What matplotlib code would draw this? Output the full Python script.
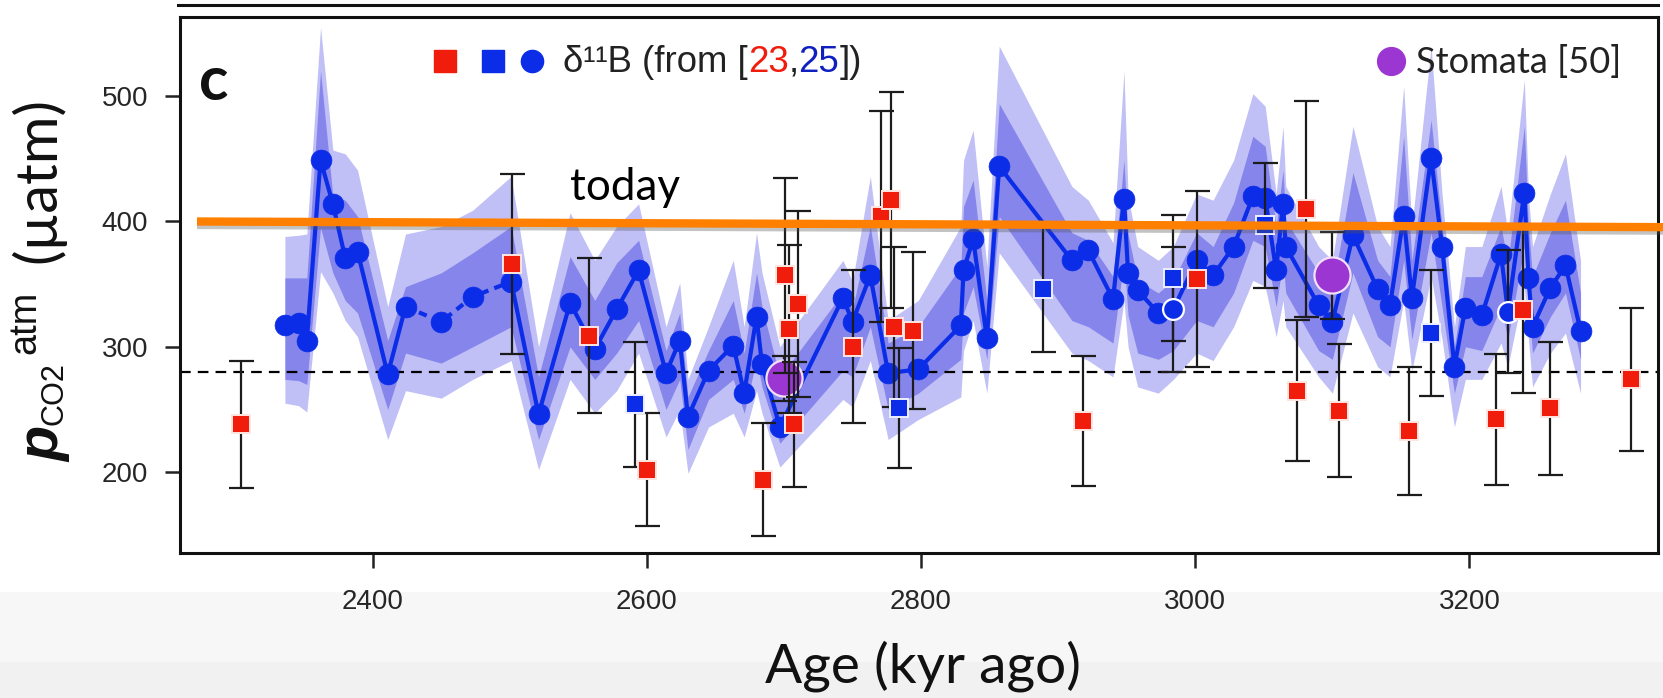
import matplotlib
matplotlib.use("Agg")
import matplotlib.pyplot as plt
from matplotlib.lines import Line2D
from matplotlib.patches import Rectangle
import matplotlib.patheffects as pe

# ---------------------------------------------------------------- data
# delta-11B derived pCO2, smoothed record (kyr ago, uatm)
b11_age = [2336, 2346, 2352, 2362, 2371, 2380, 2389, 2411, 2424, 2450, 2473, 2501,
           2521, 2544, 2562, 2578, 2594, 2614, 2624, 2630, 2645, 2663, 2671, 2680,
           2684, 2697, 2743, 2750, 2763, 2776, 2798, 2829, 2831, 2838, 2848, 2857,
           2910, 2922, 2940, 2948, 2951, 2958, 2973, 2984, 3001, 3013, 3028, 3042,
           3051, 3059, 3064, 3066, 3090, 3100, 3115, 3133, 3142, 3152, 3158, 3172,
           3180, 3189, 3197, 3209, 3223, 3228, 3240, 3243, 3246, 3259, 3270, 3281]
b11_pco2 = [317, 319, 305, 449, 414, 371, 376, 278, 332, 320, 340, 352,
            246, 335, 298, 330, 361, 279, 305, 244, 281, 301, 263, 324,
            286, 236, 339, 320, 357, 279, 282, 317, 361, 386, 307, 444,
            369, 377, 338, 418, 359, 345, 327, 330, 369, 357, 380, 420,
            419, 361, 414, 380, 333, 320, 389, 346, 333, 404, 339, 451,
            380, 284, 331, 325, 374, 328, 423, 355, 316, 347, 365, 313]
# uncertainty envelopes of the record
band95_lo = [255, 253, 248, 360, 343, 321, 308, 226, 265, 259, 274, 289,
             202, 274, 247, 265, 295, 228, 250, 199, 236, 247, 228, 265,
             247, 204, 258, 252, 289, 226, 242, 260, 297, 321, 263, 375,
             295, 289, 276, 337, 300, 268, 263, 274, 295, 289, 316, 353,
             348, 308, 337, 316, 276, 263, 327, 284, 276, 337, 281, 356,
             306, 236, 274, 274, 303, 284, 348, 306, 268, 295, 311, 263]
band68_lo = [274, 273, 270, 395, 359, 337, 327, 250, 295, 287, 300, 316,
             226, 300, 274, 295, 321, 250, 274, 218, 258, 274, 247, 290,
             268, 223, 281, 276, 316, 250, 263, 290, 327, 348, 290, 404,
             321, 316, 303, 369, 325, 295, 290, 297, 321, 316, 343, 385,
             380, 332, 369, 343, 297, 290, 359, 308, 300, 369, 306, 391,
             332, 263, 300, 297, 332, 306, 380, 332, 295, 324, 343, 290]
band68_hi = [355, 355, 355, 520, 420, 417, 404, 305, 348, 359, 375, 396,
             276, 372, 337, 367, 385, 297, 327, 260, 297, 337, 295, 359,
             332, 276, 343, 330, 396, 303, 316, 364, 412, 433, 337, 494,
             391, 385, 356, 449, 390, 353, 343, 353, 391, 380, 415, 468,
             460, 396, 441, 401, 359, 345, 439, 369, 356, 468, 369, 481,
             396, 300, 356, 356, 396, 367, 476, 396, 356, 391, 417, 343]
band95_hi = [388, 389, 390, 555, 457, 454, 441, 332, 390, 396, 409, 436,
             300, 407, 369, 396, 414, 316, 351, 274, 316, 369, 316, 391,
             359, 300, 369, 352, 436, 321, 337, 396, 449, 473, 364, 540,
             428, 417, 383, 520, 420, 380, 369, 380, 422, 417, 449, 502,
             492, 422, 476, 428, 380, 369, 476, 396, 380, 508, 396, 540,
             422, 316, 380, 380, 428, 391, 513, 422, 380, 422, 454, 369]

# individual delta-11B estimates with 2-sigma error, ref. [23] (red squares)
red_age = [2304, 2502, 2558, 2600, 2685, 2701, 2704, 2710, 2707, 2750, 2771, 2778,
           2780, 2794, 2918, 3001, 3074, 3081, 3105, 3156, 3219, 3239, 3259, 3318]
red_pco2 = [238, 366, 309, 202, 194, 357, 314, 334, 238, 300, 404, 417,
            316, 313, 241, 354, 265, 410, 249, 233, 242, 329, 251, 274]
red_err = [51, 72, 62, 45, 45, 78, 67, 74, 50, 61, 84, 86,
           64, 63, 52, 70, 56, 86, 53, 51, 52, 66, 53, 57]

# individual delta-11B estimates, ref. [25] (blue squares)
blue_age = [2591, 2784, 2889, 2984, 3051, 3172]
blue_pco2 = [254, 251, 346, 355, 397, 311]
blue_err = [50, 48, 50, 50, 50, 50]

# record points carrying their own error bars
ring_age = [2984, 3228]
ring_pco2 = [330, 328]
ring_err = [50, 49]

# stomata-based estimates, ref. [50]
stom_age = [2700, 3100]
stom_pco2 = [275, 357]
stom_err = [18, 35]

preindustrial = 280
today = [400, 395.5]

x_ticks = [2400, 2600, 2800, 3000, 3200]
y_ticks = [200, 300, 400, 500]

# ---------------------------------------------------------------- style
W, H, DPI = 1663, 698, 100
BLUE = "#0b2de8"
RED = "#f01c0c"
PURPLE = "#9c36d2"
BAND_OUT = "#c0c0f6"
BAND_IN = "#8585ec"
ORANGE = "#ff8000"
INK = "#1c1c1c"
DASHED_SPAN = (2424, 2501)

plt.rcParams["font.family"] = ["Liberation Sans", "DejaVu Sans"]

fig = plt.figure(figsize=(W / DPI, H / DPI), dpi=DPI)
renderer = fig.canvas.get_renderer()


def fx(px):
    return px / W


def fy(py):
    return 1 - py / H


def fit_width(t, px):
    w = t.get_window_extent(renderer).width
    t.set_fontsize(t.get_fontsize() * px / w)
    return t


def fit_height(t, px):
    h = t.get_window_extent(renderer).height
    t.set_fontsize(t.get_fontsize() * px / h)
    return t


# soft grey strip along the bottom of the page
fig.add_artist(Rectangle((0, 0), 1, fy(592), transform=fig.transFigure,
                         color="#f7f7f7", lw=0, zorder=-5))
fig.add_artist(Rectangle((0, 0), 1, fy(662), transform=fig.transFigure,
                         color="#f1f1f1", lw=0, zorder=-4))
# frame edge of the panel above
fig.add_artist(Line2D([fx(178), fx(1658)], [fy(5), fy(5)], color="#111111",
                      lw=2.2, transform=fig.transFigure))

ax = fig.add_axes([fx(180), fy(553.3), fx(1658) - fx(180), fy(17) - fy(553.3)])
ax.set_xlim(2259.5, 3337.5)
ax.set_ylim(135.2, 563.2)

# envelopes
ax.fill_between(b11_age, band95_lo, band95_hi, color=BAND_OUT, lw=0, zorder=1)
ax.fill_between(b11_age, band68_lo, band68_hi, color=BAND_IN, lw=0, zorder=1.2)

ax.axhline(preindustrial, color="black", lw=1.6, ls=(0, (4.8, 3.2)), zorder=1.5)

# record line, dashed across the sparse interval
i0 = b11_age.index(DASHED_SPAN[0])
i1 = b11_age.index(DASHED_SPAN[1])
ax.plot(b11_age[:i0 + 1], b11_pco2[:i0 + 1], color=BLUE, lw=3, zorder=2)
ax.plot(b11_age[i0:i1 + 1], b11_pco2[i0:i1 + 1], color=BLUE, lw=3,
        ls=(0, (2, 1.5)), zorder=2)
ax.plot(b11_age[i1:], b11_pco2[i1:], color=BLUE, lw=3, zorder=2)
ax.plot(b11_age, b11_pco2, "o", ls="none", ms=15, mfc=BLUE, mec=BLUE, mew=0.5,
        zorder=2.5)

eb = dict(fmt="none", ecolor=INK, elinewidth=1.6, capsize=9, capthick=1.6)
ax.errorbar(stom_age, stom_pco2, yerr=stom_err, zorder=3.6, **eb)
ax.plot(stom_age, stom_pco2, "o", ls="none", ms=26, mfc=PURPLE, mec="#f2e0f5",
        mew=1.6, zorder=3.8)
ax.errorbar(ring_age, ring_pco2, yerr=ring_err, zorder=4, **eb)
ax.errorbar(blue_age, blue_pco2, yerr=blue_err, zorder=4, **eb)
ax.errorbar(red_age, red_pco2, yerr=red_err, zorder=4, **eb)

ax.plot(ring_age, ring_pco2, "o", ls="none", ms=15, mfc=BLUE, mec="white",
        mew=1.6, zorder=4.5)
ax.plot(blue_age, blue_pco2, "s", ls="none", ms=13, mfc=BLUE, mec="#eef0ff",
        mew=1.4, zorder=5)
ax.plot(red_age, red_pco2, "s", ls="none", ms=13, mfc=RED, mec="#fde6e2",
        mew=1.4, zorder=5)

# present-day level
ax.plot([(197 - 180) / 1478, (1663 - 180) / 1478], today, color=ORANGE,
        lw=6, solid_capstyle="butt", transform=ax.get_yaxis_transform(),
        clip_on=False, zorder=8,
        path_effects=[pe.SimpleLineShadow(offset=(0, -2.5), shadow_color="#555555",
                                          alpha=0.35), pe.Normal()])

# axes styling
for s in ax.spines.values():
    s.set_linewidth(2.2)
    s.set_color("#111111")
ax.set_xticks(x_ticks)
ax.set_yticks(y_ticks)
ax.tick_params(axis="both", direction="out", length=11, width=1.8,
               color="#222222", labelcolor="#262626", labelsize=20)
ax.tick_params(axis="x", pad=15)
ax.tick_params(axis="y", pad=12)

# x label
t = fig.text(fx(923), fy(666), "Age (kyr ago)", family=["Lato", "DejaVu Sans"],
             fontsize=40, ha="center", va="center", color="#111111")
fit_width(t, 316)

# y label, built from its parts (rotated, reading upwards)
ylab = [("p", ["Liberation Sans"], "bold", "italic", 44, 444, 35),
        ("CO2", ["Liberation Sans"], "normal", "normal", 54, 394, 63),
        ("atm", ["Liberation Sans"], "normal", "normal", 25, 322, 63),
        ("(µatm)", ["Lato", "DejaVu Sans"], "normal", "normal", 38, 180, 166)]
for txt, fam, wt, st, xc, yc, length in ylab:
    t = fig.text(fx(xc), fy(yc), txt, family=fam, weight=wt, style=st,
                 fontsize=30, rotation=90, ha="center", va="center",
                 color="#111111")
    fit_height(t, length)

t = fig.text(fx(570), fy(200), "today", family=["Lato", "DejaVu Sans"],
             fontsize=30, ha="left", va="baseline", color="black")
fit_width(t, 110)

fig.text(fx(199), fy(100), "c", family=["Lato", "DejaVu Sans"], weight="bold",
         fontsize=44, ha="left", va="baseline", color="#111111")

# legend, left group
for px, mk, col in [(445, "s", RED), (493, "s", BLUE), (532, "o", BLUE)]:
    fig.add_artist(Line2D([fx(px)], [fy(61)], marker=mk, ms=16, mfc=col, mec=col,
                          ls="none", transform=fig.transFigure))

pieces = [("δ¹¹B (from [", "#222222"), ("23", RED), (",", "#222222"),
          ("25", "#1020c0"), ("])", "#222222")]
probe = fig.text(0, 0, "".join(p for p, _ in pieces), fontsize=20)
fit_width(probe, 300)
size = probe.get_fontsize()
probe.remove()
x_px = 563
for txt, col in pieces:
    t = fig.text(fx(x_px), fy(62), txt, fontsize=size, color=col,
                 ha="left", va="center")
    x_px += t.get_window_extent(renderer).width

# legend, right group
fig.add_artist(Line2D([fx(1391)], [fy(61)], marker="o", ms=20, mfc=PURPLE,
                      mec=PURPLE, ls="none", transform=fig.transFigure))
t = fig.text(fx(1416), fy(62), "Stomata [50]", family=["Lato", "DejaVu Sans"],
             fontsize=26, ha="left", va="center", color="#222222")
fit_width(t, 205)

fig.savefig("out.png", dpi=DPI)
